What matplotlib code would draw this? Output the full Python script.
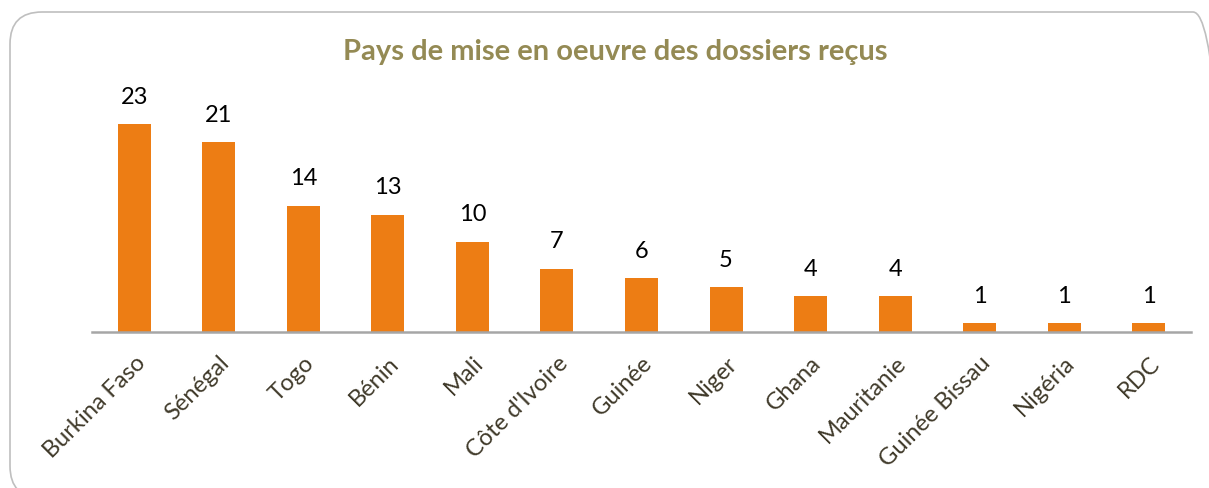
import matplotlib
matplotlib.use("Agg")
import matplotlib.pyplot as plt
from matplotlib.patches import FancyBboxPatch

countries = ["Burkina Faso", "Sénégal", "Togo", "Bénin", "Mali", "Côte d'Ivoire",
             "Guinée", "Niger", "Ghana", "Mauritanie", "Guinée Bissau", "Nigéria", "RDC"]
values = [23, 21, 14, 13, 10, 7, 6, 5, 4, 4, 1, 1, 1]

W, H = 1209, 489
fig = plt.figure(figsize=(W / 100, H / 100), dpi=100)
fig.patch.set_facecolor("white")

# rounded frame (display pixel coordinates, origin bottom-left)
frame = FancyBboxPatch((10, -10), 1215, H - 13 + 10,
                       boxstyle="round,pad=0,rounding_size=32",
                       transform=None, facecolor="none",
                       edgecolor="#BFBFBF", linewidth=1.2)
fig.patches.append(frame)

ax = fig.add_axes([92 / W, (H - 333) / H, 1099 / W, 252 / H])
x = list(range(len(countries)))
bars = ax.bar(x, values, width=0.39, color="#ED7D14", zorder=2)
ax.set_xlim(-0.5, len(countries) - 0.5)
ax.set_ylim(0, 27.9)

for xi, v in zip(x, values):
    ax.annotate(str(v), (xi, v), xytext=(0, 20), textcoords="offset points",
                ha="center", va="center", fontsize=17, family="Lato", color="black")

for s in ["top", "right", "left"]:
    ax.spines[s].set_visible(False)
ax.spines["bottom"].set_color("#A6A6A6")
ax.spines["bottom"].set_linewidth(1.8)
ax.set_yticks([])
ax.set_xticks(x)
ax.set_xticklabels(countries, rotation=45, ha="right", va="top",
                   rotation_mode="anchor", fontsize=17, family="Lato", color="#403A2A")
ax.tick_params(axis="x", length=0, pad=14)

fig.text(615 / W, 1 - 52 / H, "Pays de mise en oeuvre des dossiers reçus",
         ha="center", va="center", fontsize=21, fontweight="bold",
         family="Lato", color="#948A54")

fig.savefig("out.png", dpi=100, facecolor="white")
